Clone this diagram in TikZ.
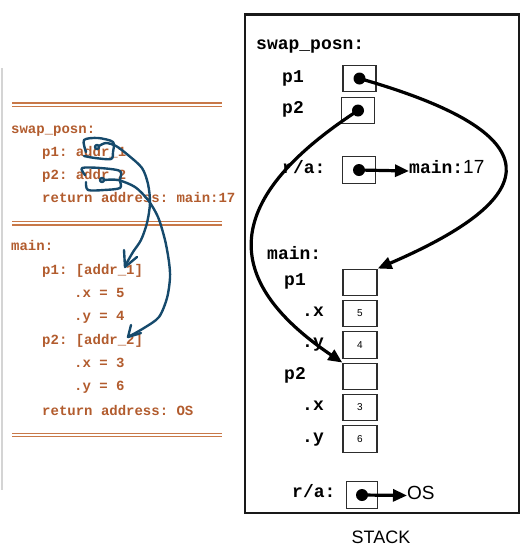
\documentclass[tikz,border=0pt]{standalone}
\usepackage{fontspec}
\setmainfont{Liberation Serif}
\setmonofont{Liberation Mono}
\setsansfont{Liberation Sans}
\usetikzlibrary{arrows.meta}
\definecolor{srccol}{RGB}{178,92,46}
\definecolor{rulecol}{RGB}{200,120,72}
\definecolor{handcol}{RGB}{22,74,108}
\definecolor{edgegray}{RGB}{212,212,212}
\definecolor{boxcol}{RGB}{45,45,45}
\tikzset{
  src/.style={anchor=west,inner sep=0pt,text=srccol,font=\fontsize{14}{14}\ttfamily\bfseries,text height=0.6em,text depth=0.1em},
  lbl/.style={anchor=west,inner sep=0pt,font=\fontsize{18}{18}\ttfamily\bfseries,text height=0.6em,text depth=0.1em},
  cell/.style={draw=boxcol,line width=1.4pt,minimum width=33pt,minimum height=26.5pt,inner sep=0pt,font=\fontsize{10}{10}\sffamily},
  ptr/.style={line width=3.2pt,-{Triangle[length=14pt,width=12pt]}},
  hand/.style={draw=handcol,line width=2.4pt,line cap=round,line join=round},
  dbl/.style={draw=rulecol,line width=1.3pt},
}
\begin{document}
\begin{tikzpicture}[x=1pt,y=-1pt]
\useasboundingbox (0,0) rectangle (523,547);
% left panel edge
\draw[edgegray,line width=1.6pt] (2,68) -- (2,490);
% double rules
\foreach \yy in {103,221.7,433.3}{
  \draw[dbl] (12,\yy) -- (222,\yy);
  \draw[dbl] (12,\yy+3.3) -- (222,\yy+3.3);
}
% source text
\node[src] (t1) at (11,130.5) {swap\_posn:};
\node[src] (t2) at (42,153.5) {p1: addr\_1};
\node[src] (t3) at (42,177) {p2: addr\_2};
\node[src] (t4) at (42,200) {return address: main:17};
\node[src] (t5) at (11,248) {main:};
\node[src] (t6) at (42,271.5) {p1: [addr\_1]};
\node[src] (t7) at (74,295) {.x = 5};
\node[src] (t8) at (74,318) {.y = 4};
\node[src] (t9) at (42,341.5) {p2: [addr\_2]};
\node[src] (t10) at (74,365) {.x = 3};
\node[src] (t11) at (74,388) {.y = 6};
\node[src] (t12) at (42,413) {return address: OS};
% hand drawn annotations
\draw[hand] plot[smooth] coordinates {(86,152) (84,140) (98,138) (113,142) (113,152) (111,159) (95,158) (84,156)};
\draw[hand] (97,147) circle (2);
\draw[hand] plot[smooth] coordinates {(99,146) (106,143) (116,146) (128,155) (142,168) (148,184) (150,203) (147,223) (141,240) (133,252) (125,266)};
\draw[hand] (124,250) -- (125,267) -- (137,257);
\draw[hand] plot[smooth] coordinates {(85,175) (82,168) (100,168) (120,171) (120,180) (120,188) (104,190) (88,190) (86,182)};
\draw[hand] (102,180) circle (2);
\draw[hand] plot[smooth] coordinates {(104,180) (118,180) (135,187) (148,200) (158,217) (165,240) (169,262) (170,278) (167,298) (159,317) (144,328) (128,337)};
\draw[hand] (131,325) -- (128,337) -- (141,333);
% stack frame
\draw[line width=2.4pt,draw=black!90] (245,14.5) rectangle (519,513);
\node[lbl] (lsp) at (256,47) {swap\_posn:};
\node[lbl] (lp1) at (282,79.5) {p1};
\node[lbl] (lp2) at (282,110.5) {p2};
\node[lbl] (lra) at (282,170.5) {r/a:};
\node[lbl] (lmain) at (267,257) {main:};
\node[lbl] (mlp1) at (284,282.5) {p1};
\node[lbl] (mlx1) at (302,313.5) {.x};
\node[lbl] (mly1) at (302,345) {.y};
\node[lbl] (mlp2) at (284,376.5) {p2};
\node[lbl] (mlx2) at (302,408) {.x};
\node[lbl] (mly2) at (302,440) {.y};
\node[lbl] (mlra) at (292,495) {r/a:};
% cells
\node[cell] (sp1) at (359.5,78.5) {};
\node[cell] (sp2) at (358,110.5) {};
\node[cell] (sra) at (359,170) {};
\node[cell,minimum width=34pt] (mp1) at (360,282.5) {};
\node[cell,minimum width=34pt] (mx1) at (360,313.5) {5};
\node[cell,minimum width=34pt] (my1) at (360,345) {4};
\node[cell,minimum width=34pt] (mp2) at (360,376.5) {};
\node[cell,minimum width=34pt] (mx2) at (360,407.5) {3};
\node[cell,minimum width=34pt] (my2) at (360,439) {6};
\node[cell,minimum width=31pt] (mra) at (362,495) {};
% targets
\node[anchor=west,inner sep=0pt,text height=0.6em,text depth=0.1em] (tmain) at (409,171) {\fontsize{18}{18}\ttfamily\bfseries main:\fontsize{19}{19}\sffamily\mdseries 17};
\node[anchor=west,inner sep=0pt,font=\fontsize{19}{19}\sffamily,text height=0.7em,text depth=0pt] (tos) at (407,495.5) {OS};
\node[inner sep=0pt,font=\fontsize{18}{18}\sffamily] (stack) at (381,537) {STACK};
% dots
\foreach \n in {sp1,sp2,sra,mra}{\fill (\n.center) circle (6);}
% pointers
\draw[ptr] (sra.center) -- (tmain.west);
\draw[ptr] (mra.center) -- (tos.west);
\draw[ptr] (sp1.center) .. controls (575,140) and (525,205) .. (mp1.north east);
\draw[ptr] (sp2.center) .. controls (205,210) and (235,290) .. (mp2.north west);
\end{tikzpicture}
\end{document}
